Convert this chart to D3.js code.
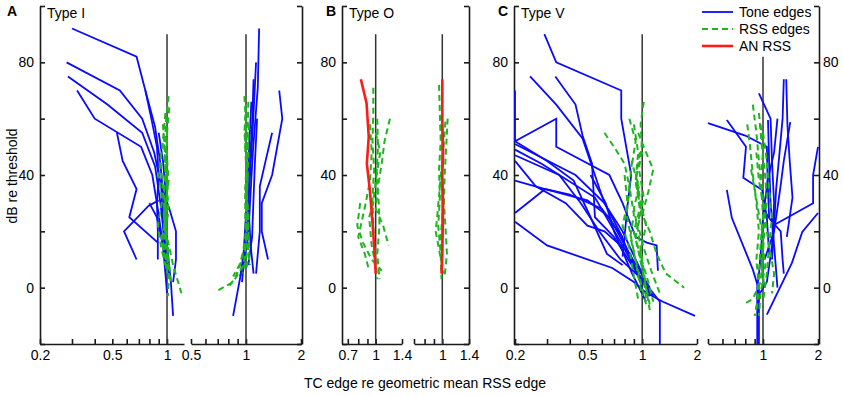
<!DOCTYPE html>
<html>
<head>
<meta charset="utf-8">
<script src="https://cdn.jsdelivr.net/npm/d3@7"></script>
<style>
body { margin: 0; background: #fff; }
text { font-family: "Liberation Sans", Arial, sans-serif; }
</style>
</head>
<body>
<div id="chart"></div>
<script>
// each line is a list of [TC edge re RSS edge, dB re threshold]
var toneA1 = [
  [[0.30,92],[0.68,82],[0.76,70],[0.86,57],[0.92,44],[0.96,30],[1.0,15],[1.05,2],[1.08,-10]],
  [[0.28,80],[0.55,70],[0.73,60],[0.85,48],[0.93,36],[0.95,22],[0.98,10]],
  [[0.285,75],[0.47,65],[0.73,55],[0.86,43],[0.92,30],[0.97,17],[1.0,5]],
  [[0.32,70],[0.40,60],[0.72,50],[0.83,40],[0.89,28],[0.95,15],[1.0,8]],
  [[0.53,55],[0.57,45],[0.68,35],[0.62,25],[0.89,16]],
  [[0.68,10],[0.58,20],[0.79,29],[0.90,31]],
  [[0.76,70],[0.82,60],[0.88,50],[0.90,40],[0.88,30],[0.89,20],[0.89,10]],
  [[0.93,36],[1.03,28],[1.12,20],[1.12,10],[1.08,2]],
  [[0.80,30],[0.88,25],[0.95,15],[0.98,5],[1.0,-2]],
  [[0.90,55],[0.95,45],[0.98,35],[0.97,25],[1.0,12],[1.02,5]]
];
var rssA1 = [
  [[1.02,68],[0.99,60],[0.97,50],[0.98,40],[1.01,30],[0.98,20],[1.02,10],[1.05,2]],
  [[0.98,62],[0.95,52],[0.92,45],[0.95,35],[0.97,25],[0.95,15],[1.0,5]],
  [[1.0,56],[1.0,46],[1.02,38],[0.97,28],[1.0,18],[1.08,8],[1.2,-2]],
  [[0.93,48],[0.90,40],[0.94,31],[0.89,22],[0.93,14],[0.98,8]],
  [[0.99,44],[1.01,35],[0.96,26],[0.99,16],[1.03,6],[1.01,-3]],
  [[0.95,58],[0.97,48],[0.99,38],[1.02,27],[0.96,18],[1.0,10]],
  [[1.03,64],[1.0,55],[0.98,45],[1.0,34],[0.97,24],[1.01,14],[1.0,4]],
  [[0.96,54],[0.99,44],[0.96,34],[0.99,24],[0.93,18],[0.97,12],[1.03,4]]
];
var toneA2 = [
  [[1.18,92],[1.16,71],[1.09,48],[1.05,29],[1.03,18],[0.95,7],[0.85,-10]],
  [[1.135,80],[1.10,62],[1.07,48],[1.04,35],[1.02,22],[0.98,10],[0.95,2]],
  [[1.52,70],[1.58,60],[1.39,40],[1.22,30],[1.22,20],[1.32,10]],
  [[1.39,55],[1.28,45],[1.19,36],[1.19,20],[1.135,5]],
  [[1.10,74],[1.08,58],[1.05,44],[1.03,30],[1.06,15],[1.10,5]],
  [[1.07,66],[1.04,50],[1.02,38],[1.0,26],[0.97,12],[0.93,4]],
  [[1.15,60],[1.12,45],[1.10,32],[1.08,18],[1.03,8]]
];
var rssA2 = [
  [[0.98,68],[1.0,58],[0.99,48],[1.02,38],[1.0,28],[1.01,18],[0.97,8],[0.85,2],[0.70,-1]],
  [[1.03,66],[1.02,55],[1.03,45],[1.01,33],[1.03,22],[1.04,12],[1.0,6]],
  [[1.0,62],[0.99,52],[1.01,42],[0.99,32],[1.0,20],[0.95,10],[0.88,4],[0.80,0]],
  [[1.04,58],[1.02,48],[1.0,36],[1.03,26],[1.02,15],[1.05,8]],
  [[0.99,55],[1.01,45],[1.0,35],[0.99,24],[1.01,12],[0.96,5]],
  [[1.0,65],[0.98,55],[1.01,45],[0.99,35],[1.02,25],[0.99,15],[0.92,8],[0.85,4]]
];
var rssB1 = [
  [[0.97,71],[0.97,62],[0.96,52],[0.98,42],[0.96,32],[0.97,22],[0.99,12],[1.02,3]],
  [[1.02,60],[1.03,50],[1.01,40],[1.04,30],[1.05,22],[1.02,12],[1.05,3]],
  [[1.2,60],[1.12,52],[1.08,44],[1.03,36],[1.0,28],[1.1,22],[1.18,15]],
  [[0.93,58],[0.95,48],[0.93,38],[0.88,30],[0.84,24],[0.80,18],[0.87,12],[0.92,6]],
  [[1.0,55],[1.06,48],[1.0,38],[0.97,30],[0.92,25],[0.95,15],[1.0,8]],
  [[0.82,30],[0.79,22],[0.85,16],[0.95,10],[1.08,6]]
];
var anB1 = [[[0.827,74],[0.89,65.5],[0.915,53.5],[0.893,44],[0.927,35],[0.963,22],[0.987,12],[1.0,5]]];
var rssB2 = [
  [[0.96,72],[0.97,62],[0.98,52],[0.96,42],[0.97,32],[0.95,22],[0.98,12],[0.99,3]],
  [[1.07,60],[1.05,50],[1.03,40],[1.02,30],[1.04,22],[1.06,12],[1.03,4]],
  [[0.98,58],[1.0,48],[0.99,38],[1.01,28],[0.98,18],[1.0,8]],
  [[1.04,59],[1.01,48],[0.97,36],[0.94,26],[0.92,20],[0.97,12],[1.02,5]]
];
var anB2 = [[[1.0,74],[1.0,60],[1.01,48],[1.0,40],[1.01,30],[1.005,20],[1.0,12],[0.99,5]]];
var toneC1 = [
  [[0.29,90],[0.337,80],[0.767,70],[0.767,60],[0.87,40],[0.83,29],[0.78,11]],
  [[0.242,75],[0.337,65],[0.47,53],[0.62,30],[0.78,20],[1.0,5],[1.1,-2.5],[1.3,-5],[1.95,-10]],
  [[0.333,75],[0.43,65],[0.47,54],[0.53,44],[0.55,25],[0.70,18],[1.1,-2]],
  [[0.2,70],[0.2,52],[0.337,60],[0.337,50],[0.66,40],[0.78,30],[0.92,18],[1.06,16],[1.2,15],[1.22,6]],
  [[0.2,51],[0.43,40],[0.62,30],[0.75,20],[0.90,8],[1.1,-2]],
  [[0.2,49],[0.28,44],[0.55,32],[0.78,15],[1.0,2],[1.15,-3]],
  [[0.2,47],[0.35,40],[0.46,30],[0.58,20],[0.76,10],[1.0,3],[1.25,-5],[1.25,-20]],
  [[0.2,38],[0.293,35],[0.50,31],[0.66,25],[0.85,12],[1.1,0]],
  [[0.2,26.5],[0.293,35],[0.40,33],[0.60,28],[0.78,18]],
  [[0.2,23.4],[0.30,15],[0.685,7],[0.90,2],[1.1,-3]],
  [[0.2,52],[0.30,45],[0.42,38],[0.52,25],[0.64,12],[0.78,8]],
  [[0.2,45],[0.26,36],[0.38,30],[0.50,22],[0.62,20],[0.86,12],[1.0,0]],
  [[0.52,40],[0.63,30],[0.70,20],[0.88,5],[1.05,-5]]
];
var rssC1 = [
  [[0.85,60],[0.92,52],[0.88,44],[0.96,36],[0.90,28],[0.95,20],[1.0,10],[1.05,0],[1.1,-8]],
  [[1.02,66],[0.98,58],[1.0,48],[0.93,40],[0.98,30],[1.05,22],[0.97,12],[1.08,2],[1.15,-5]],
  [[0.62,55],[0.70,50],[0.80,44],[0.85,36],[0.82,26],[0.88,16],[0.94,6],[1.0,-3]],
  [[0.95,55],[1.05,48],[1.15,42],[1.08,34],[1.0,26],[1.1,20],[1.2,12],[1.35,5],[1.7,0]],
  [[0.88,45],[0.85,36],[0.90,26],[0.86,18],[0.92,10],[0.98,2],[1.05,-6]],
  [[1.0,52],[0.96,42],[1.02,32],[0.95,22],[1.02,14],[1.12,6],[1.25,-2]],
  [[0.80,40],[0.83,30],[0.78,22],[0.85,14],[0.90,4],[0.95,-4]],
  [[0.90,58],[0.95,48],[0.92,38],[0.98,28],[0.92,18],[1.0,8],[1.05,-4]],
  [[0.97,48],[0.92,38],[0.97,28],[0.90,20],[0.96,12],[1.02,4],[1.1,-6]]
];
var toneC2 = [
  [[0.5,58.4],[0.8,54],[1.05,50],[1.06,38],[1.08,25]],
  [[0.634,59.5],[0.807,50],[0.78,39],[0.99,34.7],[1.05,25],[1.08,12]],
  [[0.634,34.7],[0.675,24.8],[0.88,6.4],[0.95,-0.7],[0.95,-20]],
  [[0.95,69],[1.1,60],[1.12,45],[1.15,30],[1.12,15],[1.05,2],[0.92,-4]],
  [[1.30,74],[1.28,60],[1.22,45],[1.18,35],[1.15,22],[1.12,10]],
  [[1.34,74],[1.36,58],[1.40,45],[1.45,32],[1.35,18]],
  [[2.0,50],[1.88,40],[1.88,30],[1.13,22]],
  [[2.0,26.5],[1.64,19.8],[1.44,8.8],[1.05,-9.6]],
  [[1.065,59.5],[1.08,45],[1.10,30],[1.15,15],[1.20,0]],
  [[1.41,58.8],[1.30,45],[1.24,34.7],[1.15,20],[1.02,10]],
  [[1.2,60],[1.15,48],[1.06,38],[1.0,25],[0.98,15],[0.96,8]],
  [[1.0,28],[1.1,24],[1.25,20],[1.28,10],[1.30,5]],
  [[0.93,-20],[0.93,0],[0.97,10],[1.0,18]]
];
var rssC2 = [
  [[0.88,65],[0.92,55],[0.95,45],[0.98,35],[1.0,25],[0.97,15],[0.95,5],[0.93,-5],[0.9,-10]],
  [[0.95,62],[0.98,52],[1.02,42],[1.05,32],[1.02,22],[1.0,12],[0.97,2],[0.88,-4],[0.78,-6]],
  [[0.82,58],[0.85,50],[0.88,40],[0.92,30],[0.95,20],[0.92,10],[0.95,0],[0.92,-8]],
  [[1.0,55],[1.05,45],[1.08,35],[1.12,25],[1.08,15],[1.05,5],[1.0,-5]],
  [[0.92,48],[0.95,38],[1.0,30],[1.05,20],[1.1,12],[1.15,5],[1.12,-2]],
  [[0.86,42],[0.90,35],[0.95,26],[1.0,18],[0.98,8],[1.02,0]],
  [[0.97,58],[1.0,48],[0.97,38],[1.02,28],[0.98,18],[1.03,8],[0.97,-2],[0.95,-10]]
];

var yTicks = [-20, 0, 20, 40, 60, 80, 100];
var yLabels = [0, 40, 80];
var legendNames = ["Tone edges", "RSS edges", "AN RSS"];

var blue = "#0a0aff", green = "#1fb51f", red = "#ff1a1a";

var svg = d3.select("#chart").append("svg")
    .attr("width", 843)
    .attr("height", 396);

var y = d3.scaleLinear().domain([-20, 100]).range([344, 6]);

// panel layout: each panel has two log-scaled sub-axes
var panels = [
  {letter: "A", title: "Type I", left: 40, right: 302, rightLabels: false,
   subs: [
     {domain: [0.2, 1.24], range: [40, 184], ticks: [0.2,0.3,0.4,0.5,0.6,0.7,0.8,0.9,1], labels: [0.2,0.5,1], refTop: 90, tone: toneA1, rss: rssA1, an: []},
     {domain: [0.5, 2], range: [191, 301], ticks: [0.5,0.6,0.7,0.8,0.9,1,2], labels: [0.5,1,2], refTop: 90, tone: toneA2, rss: rssA2, an: []}
   ]},
  {letter: "B", title: "Type O", left: 342, right: 469, rightLabels: false,
   subs: [
     {domain: [0.65, 1.4], range: [342, 402], ticks: [0.7,0.8,0.9,1,1.4], labels: [0.7,1,1.4], refTop: 90, tone: [], rss: rssB1, an: anB1},
     {domain: [0.7, 1.4], range: [414, 469], ticks: [0.7,0.8,0.9,1,1.4], labels: [1,1.4], refTop: 90, tone: [], rss: rssB2, an: anB2}
   ]},
  {letter: "C", title: "Type V", left: 514, right: 819, rightLabels: true,
   subs: [
     {domain: [0.2, 2], range: [515, 697], ticks: [0.2,0.3,0.4,0.5,0.6,0.7,0.8,0.9,1,2], labels: [0.2,0.5,1,2], refTop: 90, tone: toneC1, rss: rssC1, an: []},
     {domain: [0.5, 2], range: [708, 818], ticks: [0.5,0.6,0.7,0.8,0.9,1,2], labels: [1,2], refTop: 82, tone: toneC2, rss: rssC2, an: []}
   ]}
];

function styleAxis(g) {
  g.selectAll("path, line").attr("stroke", "#1a1a1a").attr("stroke-width", 1.6);
  g.selectAll("text").attr("font-size", 14).attr("fill", "#000")
    .attr("font-family", "Liberation Sans, Arial, sans-serif");
}

panels.forEach(function(p) {
  // left y axis
  svg.append("g")
      .attr("transform", "translate(" + p.left + ",0)")
      .call(d3.axisLeft(y).tickValues(yTicks).tickSize(-5).tickSizeOuter(0).tickPadding(6)
        .tickFormat(function(d) { return yLabels.indexOf(d) >= 0 ? d : ""; }))
      .call(styleAxis);

  // right y axis
  svg.append("g")
      .attr("transform", "translate(" + p.right + ",0)")
      .call(d3.axisRight(y).tickValues(yTicks).tickSize(-5).tickSizeOuter(0).tickPadding(4)
        .tickFormat(function(d) { return p.rightLabels && yLabels.indexOf(d) >= 0 ? d : ""; }))
      .call(styleAxis);

  p.subs.forEach(function(s) {
    var x = d3.scaleLog().domain(s.domain).range(s.range);

    svg.append("g")
        .attr("transform", "translate(0," + y(-20) + ")")
        .call(d3.axisBottom(x).tickValues(s.ticks).tickSize(-5).tickSizeOuter(0).tickPadding(6)
          .tickFormat(function(d) { return s.labels.indexOf(d) >= 0 ? d : ""; }))
        .call(styleAxis);

    // reference line at 1
    svg.append("line")
        .attr("x1", x(1)).attr("x2", x(1))
        .attr("y1", y(s.refTop)).attr("y2", y(-20))
        .attr("stroke", "#333").attr("stroke-width", 1.5);

    var line = d3.line()
        .x(function(d) { return x(d[0]); })
        .y(function(d) { return y(d[1]); });

    svg.selectAll(null).data(s.tone).enter().append("path")
        .attr("d", line)
        .attr("fill", "none").attr("stroke", blue).attr("stroke-width", 1.8);

    svg.selectAll(null).data(s.rss).enter().append("path")
        .attr("d", line)
        .attr("fill", "none").attr("stroke", green).attr("stroke-width", 2)
        .attr("stroke-dasharray", "6,4");

    svg.selectAll(null).data(s.an).enter().append("path")
        .attr("d", line)
        .attr("fill", "none").attr("stroke", red).attr("stroke-width", 2.6);
  });

  // panel letter and title
  svg.append("text")
      .attr("x", p.left - 33 + (p.letter === "A" ? 0 : 17)).attr("y", 16)
      .attr("font-size", 14).attr("font-weight", "bold")
      .text(p.letter);
  svg.append("text")
      .attr("x", p.left + 7).attr("y", 18)
      .attr("font-size", 14)
      .text(p.title);
});

// axis titles
svg.append("text")
    .attr("transform", "translate(17,176) rotate(-90)")
    .attr("text-anchor", "middle")
    .attr("font-size", 14)
    .text("dB re threshold");

svg.append("text")
    .attr("x", 425).attr("y", 388)
    .attr("text-anchor", "middle")
    .attr("font-size", 14)
    .text("TC edge re geometric mean RSS edge");

// legend
var legend = svg.append("g").attr("transform", "translate(702,12)");
var legendStyles = [
  {color: blue, dash: null, width: 1.8},
  {color: green, dash: "6,4", width: 2},
  {color: red, dash: null, width: 2.6}
];
legendNames.forEach(function(name, i) {
  var row = legend.append("g").attr("transform", "translate(0," + (i * 17) + ")");
  row.append("line")
      .attr("x1", 0).attr("x2", 31).attr("y1", 0).attr("y2", 0)
      .attr("stroke", legendStyles[i].color)
      .attr("stroke-width", legendStyles[i].width)
      .attr("stroke-dasharray", legendStyles[i].dash);
  row.append("text")
      .attr("x", 37).attr("y", 5)
      .attr("font-size", 14)
      .text(name);
});
</script>
</body>
</html>
